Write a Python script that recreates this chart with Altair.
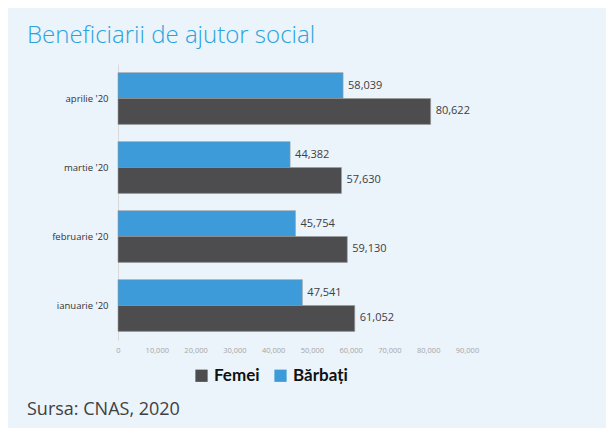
import altair as alt
import pandas as pd

months = ["aprilie '20", "martie '20", "februarie '20", "ianuarie '20"]
barbati = [58039, 44382, 45754, 47541]
femei = [80622, 57630, 59130, 61052]
series = ["Femei", "Bărbați"]
colors = ["#4D4D4F", "#3D9BD9"]
x_ticks = [0, 10000, 20000, 30000, 40000, 50000, 60000, 70000, 80000, 90000]

rows = []
for m, b, f in zip(months, barbati, femei):
    rows.append({"luna": m, "gen": "Bărbați", "val": b, "ord": 0})
    rows.append({"luna": m, "gen": "Femei", "val": f, "ord": 1})
df = pd.DataFrame(rows)

BG = "#EBF3FB"
FONT = "Open Sans"

y_enc = alt.Y("luna:N", sort=months, title=None,
              scale=alt.Scale(paddingInner=0.25, paddingOuter=0.125),
              axis=alt.Axis(ticks=False, labelPadding=10, labelFontSize=9.5,
                            labelColor="#333333", labelFont=FONT,
                            domainColor="#D9D9D9", domainWidth=1))
x_enc = alt.X("val:Q", title=None,
              scale=alt.Scale(domain=[0, 90000], nice=False),
              axis=alt.Axis(values=x_ticks, format=",.0f", grid=False, domain=False,
                            ticks=False, labelFontSize=7.5, labelColor="#A6A6A6",
                            labelFont=FONT, labelPadding=6, labelOverlap=False,
                            labelFlush=False))

base = alt.Chart(df).encode(
    y=y_enc,
    yOffset=alt.YOffset("ord:O", scale=alt.Scale(paddingInner=0, paddingOuter=0)),
    x=x_enc,
)

bars = base.mark_bar(stroke="#9A9A9A", strokeWidth=0.6).encode(
    color=alt.Color("gen:N", scale=alt.Scale(domain=series, range=colors),
                    legend=alt.Legend(title=None, orient="none", direction="horizontal",
                                      legendX=75, legendY=303, symbolType="square",
                                      symbolSize=150, symbolStrokeWidth=0,
                                      labelFontSize=17, labelFont="Lato",
                                      labelFontWeight="bold", labelColor="#111111",
                                      columnPadding=12, symbolOffset=0, labelOffset=4)),
)

labels = base.mark_text(align="left", dx=5, fontSize=11, font=FONT, color="#404040").encode(
    text=alt.Text("val:Q", format=",.0f"),
)

footer = alt.Chart(pd.DataFrame({"t": ["Sursa: CNAS, 2020"]})).mark_text(
    align="left", baseline="alphabetic", fontSize=18, font=FONT, color="#404040"
).encode(x=alt.value(-91), y=alt.value(351), text="t:N")

chart = alt.layer(bars, labels, footer).properties(
    width=349, height=276,
    background=BG,
    padding={"left": 110, "top": 56, "right": 139, "bottom": 88},
    autosize=alt.AutoSizeParams(type="none"),
    title=alt.TitleParams("Beneficiarii de ajutor social", anchor="start", frame="group",
                          dx=-91, offset=16, fontSize=24, font=FONT, fontWeight=300,
                          color="#29A3DD"),
).configure_view(stroke=None)

chart.save("out.html", embed_options={"renderer": "svg", "actions": False})
